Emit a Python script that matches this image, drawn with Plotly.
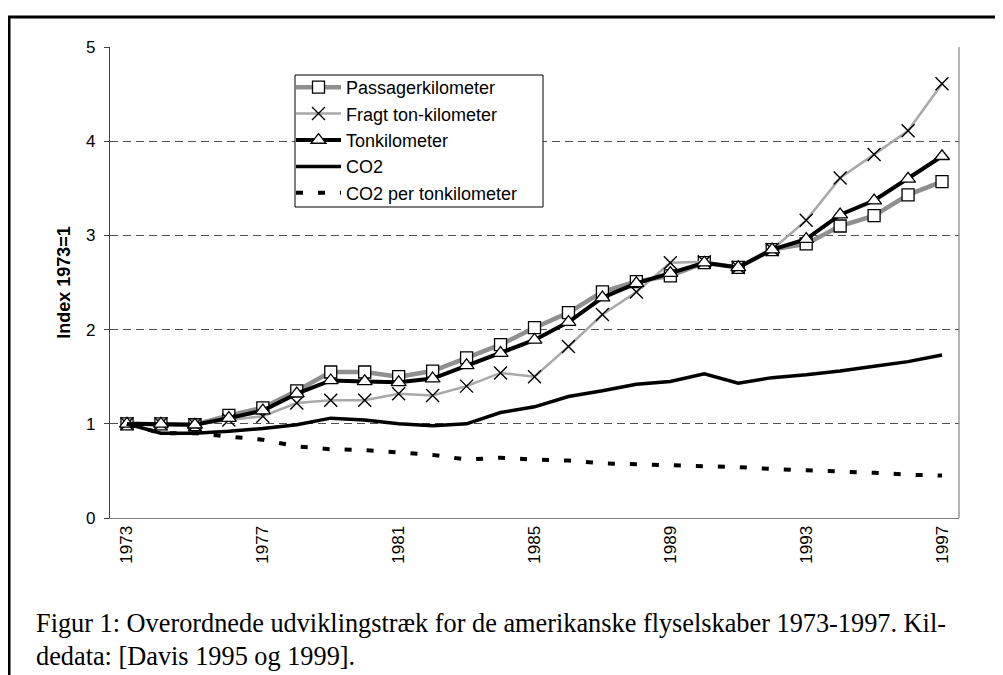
import plotly.graph_objects as go

years = list(range(1973, 1998))

passager = [1.00, 1.00, 0.99, 1.09, 1.17, 1.35, 1.55, 1.55, 1.50, 1.56, 1.70, 1.84, 2.02,
            2.18, 2.40, 2.51, 2.57, 2.71, 2.66, 2.85, 2.91, 3.10, 3.21, 3.43, 3.57]
fragt = [1.00, 1.00, 0.99, 1.04, 1.08, 1.22, 1.25, 1.25, 1.32, 1.30, 1.40, 1.54, 1.50,
         1.82, 2.16, 2.40, 2.71, 2.72, 2.66, 2.85, 3.16, 3.61, 3.86, 4.11, 4.61]
tonkm = [1.00, 1.00, 0.99, 1.06, 1.14, 1.32, 1.46, 1.45, 1.44, 1.48, 1.62, 1.75, 1.89,
         2.08, 2.34, 2.49, 2.60, 2.71, 2.66, 2.85, 2.96, 3.22, 3.37, 3.60, 3.84]
co2 = [1.00, 0.90, 0.90, 0.92, 0.95, 0.99, 1.06, 1.04, 1.00, 0.98, 1.00, 1.12, 1.18,
       1.29, 1.35, 1.42, 1.45, 1.53, 1.43, 1.49, 1.52, 1.56, 1.61, 1.66, 1.73]
co2_per_tkm = [1.00, 0.90, 0.90, 0.87, 0.83, 0.76, 0.73, 0.72, 0.70, 0.67, 0.62, 0.64, 0.62,
               0.61, 0.58, 0.57, 0.56, 0.56, 0.54, 0.52, 0.51, 0.49, 0.48, 0.46, 0.45]

tick_years = [1973, 1977, 1981, 1985, 1989, 1993, 1997]
y_ticks = [0, 1, 2, 3, 4, 5]

caption1 = "Figur 1: Overordnede udviklingstræk for de amerikanske flyselskaber 1973-1997. Kil-"
caption2 = "dedata: [Davis 1995 og 1999]."

# page body has an 8px margin; figure pixel coords = screen coords - 8
OFF = 8
L, T, PW, PH = 110 - OFF, 47 - OFF, 849, 471
W, H = 1003, 675


def px(xs):
    return (xs - OFF - L) / PW


def py(ys):
    return (T + PH - (ys - OFF)) / PH


fig = go.Figure()

fig.add_trace(go.Scatter(
    x=years, y=passager, name="Passagerkilometer", mode="lines+markers",
    line=dict(color="#8f8f8f", width=4.5),
    marker=dict(symbol="square", size=12, color="white", line=dict(color="black", width=1.3)),
))
fig.add_trace(go.Scatter(
    x=years, y=fragt, name="Fragt ton-kilometer", mode="lines+markers",
    line=dict(color="#a8a8a8", width=2.5),
    marker=dict(symbol="x-thin", size=13, color="black", line=dict(color="black", width=1.4)),
))
fig.add_trace(go.Scatter(
    x=years, y=tonkm, name="Tonkilometer", mode="lines+markers",
    line=dict(color="black", width=4),
    marker=dict(symbol="triangle-up", size=13, color="white", line=dict(color="black", width=1.3)),
))
fig.add_trace(go.Scatter(
    x=years, y=co2, name="CO2", mode="lines",
    line=dict(color="black", width=3.5),
))
fig.add_trace(go.Scatter(
    x=years, y=co2_per_tkm, name="CO2 per tonkilometer", mode="lines",
    line=dict(color="black", width=4, dash="7px,15px"),
))

# outer frame (left and top edges visible)
fig.add_shape(type="rect", xref="paper", yref="paper",
              x0=px(9), x1=px(1030), y0=py(700), y1=py(17),
              line=dict(color="black", width=3), layer="below")
# right border of plot area
fig.add_shape(type="line", xref="paper", yref="paper", x0=1, x1=1, y0=0, y1=1,
              line=dict(color="#808080", width=1.2))
# legend box
fig.add_shape(type="rect", xref="paper", yref="paper",
              x0=px(295), x1=px(543), y0=py(207), y1=py(75),
              line=dict(color="black", width=1), fillcolor="white", layer="above")

fig.add_annotation(text=caption1, xref="paper", yref="paper",
                   x=px(34), y=py(623), xanchor="left", yanchor="middle",
                   showarrow=False, font=dict(family="Liberation Serif", size=26.3, color="black"))
fig.add_annotation(text=caption2, xref="paper", yref="paper",
                   x=px(34), y=py(656), xanchor="left", yanchor="middle",
                   showarrow=False, font=dict(family="Liberation Serif", size=26.3, color="black"))

fig.update_layout(
    width=W, height=H,
    margin=dict(l=L, r=W - L - PW, t=T, b=H - T - PH, autoexpand=False),
    paper_bgcolor="white", plot_bgcolor="white",
    font=dict(family="Liberation Sans, Arial", size=16, color="black"),
    showlegend=True,
    legend=dict(
        x=px(291), y=py(69), xanchor="left", yanchor="top",
        bgcolor="rgba(0,0,0,0)", borderwidth=0,
        font=dict(family="Liberation Sans, Arial", size=18, color="black"),
        itemwidth=45, tracegroupgap=0,
    ),
    xaxis=dict(
        range=[1972.5, 1997.5], tickmode="array", tickvals=tick_years,
        ticktext=[str(y) for y in tick_years], tickangle=-90,
        showgrid=False, zeroline=False, showline=True, linecolor="#808080", linewidth=1.2,
        ticks="", tickfont=dict(size=17),
    ),
    yaxis=dict(
        range=[0, 5], tickmode="array", tickvals=y_ticks,
        showgrid=True, gridcolor="#505050", gridwidth=1, griddash="8px,5px",
        zeroline=False, showline=True, linecolor="#404040", linewidth=1.2,
        ticks="outside", ticklen=5, tickcolor="#404040", ticklabelstandoff=5,
        title=dict(text="<b>Index 1973=1</b>", font=dict(size=18), standoff=10),
        tickfont=dict(size=17),
    ),
)

fig.write_html("out.html")
